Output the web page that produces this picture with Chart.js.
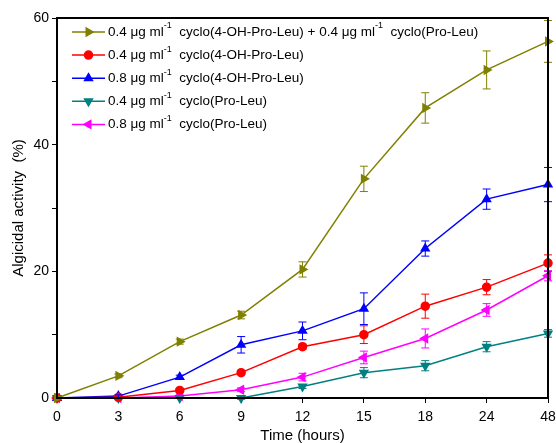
<!DOCTYPE html>
<html><head><meta charset="utf-8">
<script src="https://cdn.jsdelivr.net/npm/chart.js@4"></script>
<style>html,body{margin:0;padding:0;background:#fff}#wrap{width:556px;height:443px}</style>
</head><body><div id="wrap"><canvas id="c" width="556" height="443"></canvas></div>
<script>
const timeLabels = ['0','3','6','9','12','15','18','24','48'];
const comboValues = [0, 3.5, 8.9, 13.1, 20.3, 34.6, 45.8, 51.8, 56.3];
const comboErr    = [0, 0.3, 0.4, 0.6, 1.2, 2.0, 2.4, 3.0, 3.3];
const oh04Values  = [0, 0.1, 1.2, 4.0, 8.1, 10.0, 14.5, 17.5, 21.3];
const oh04Err     = [0, 0, 0.3, 0.3, 0.4, 1.4, 1.9, 1.2, 1.3];
const oh08Values  = [0, 0.3, 3.3, 8.4, 10.6, 14.1, 23.6, 31.4, 33.7];
const oh08Err     = [0, 0.2, 0.3, 1.3, 1.4, 2.5, 1.2, 1.6, 2.7];
const pl04Values  = [0, 0, 0, 0, 1.8, 4.0, 5.1, 8.1, 10.2];
const pl04Err     = [0, 0, 0, 0.2, 0.3, 0.8, 0.8, 0.8, 0.6];
const pl08Values  = [0, 0, 0.3, 1.3, 3.3, 6.4, 9.4, 13.9, 19.3];
const pl08Err     = [0, 0, 0.2, 0.3, 0.6, 1.0, 1.5, 1.0, 0.8];
const seriesNames = [
  ['0.4 μg ml', '-1', '  cyclo(4-OH-Pro-Leu) + 0.4 μg ml', '-1', '  cyclo(Pro-Leu)'],
  ['0.4 μg ml', '-1', '  cyclo(4-OH-Pro-Leu)'],
  ['0.8 μg ml', '-1', '  cyclo(4-OH-Pro-Leu)'],
  ['0.4 μg ml', '-1', '  cyclo(Pro-Leu)'],
  ['0.8 μg ml', '-1', '  cyclo(Pro-Leu)']
];
const FONT = '"Liberation Sans", Arial, sans-serif';

function ds(name, data, err, color, style, rot, r) {
  return { label: name.join(''), data, err, borderColor: color, backgroundColor: color,
    pointStyle: style, rotation: rot, pointRadius: r, pointHoverRadius: r,
    borderWidth: 1.5, tension: 0, clip: false, legendParts: name };
}

const errorBars = {
  id: 'errorBars',
  afterDatasetsDraw(chart) {
    const ctx = chart.ctx, y = chart.scales.y, x = chart.scales.x;
    chart.data.datasets.forEach(d => {
      ctx.save(); ctx.strokeStyle = d.borderColor; ctx.lineWidth = 1;
      d.data.forEach((v, i) => {
        const e = d.err[i]; if (!e) return;
        const px = x.getPixelForValue(i), t = y.getPixelForValue(v + e), b = y.getPixelForValue(v - e);
        ctx.beginPath();
        ctx.moveTo(px, t); ctx.lineTo(px, b);
        ctx.moveTo(px - 4, t); ctx.lineTo(px + 4, t);
        ctx.moveTo(px - 4, b); ctx.lineTo(px + 4, b);
        ctx.stroke();
      });
      ctx.restore();
    });
  }
};

const frame = {
  id: 'frame',
  afterDraw(chart) {
    const a = chart.chartArea, ctx = chart.ctx;
    ctx.save(); ctx.strokeStyle = '#000'; ctx.lineWidth = 2;
    ctx.strokeRect(a.left, a.top, a.right - a.left, a.bottom - a.top);
    ctx.restore();
    // legend
    ctx.save();
    chart.data.datasets.forEach((d, k) => {
      const cy = 32 + k * 23.1;
      ctx.strokeStyle = d.borderColor; ctx.lineWidth = 1.5;
      ctx.beginPath(); ctx.moveTo(72, cy); ctx.lineTo(105, cy); ctx.stroke();
      Chart.helpers.drawPoint(ctx, { pointStyle: d.pointStyle, rotation: d.rotation, radius: d.pointRadius, borderWidth: 1 }, 88.5, cy);
      ctx.fillStyle = d.borderColor; ctx.fill();
      ctx.fillStyle = '#000'; ctx.textBaseline = 'middle';
      let tx = 108;
      d.legendParts.forEach((p, j) => {
        if (j % 2 === 1) {
          ctx.font = '9px ' + FONT;
          ctx.fillText(p, tx, cy - 6);
          tx += ctx.measureText(p).width;
        } else {
          ctx.font = '13.5px ' + FONT;
          ctx.fillText(p, tx, cy);
          tx += ctx.measureText(p).width;
        }
      });
    });
    ctx.restore();
  }
};

new Chart(document.getElementById('c'), {
  type: 'line',
  data: {
    labels: timeLabels,
    datasets: [
      ds(seriesNames[0], comboValues, comboErr, '#808000', 'triangle', 90, 4.5),
      ds(seriesNames[1], oh04Values, oh04Err, '#ff0000', 'circle', 0, 4),
      ds(seriesNames[2], oh08Values, oh08Err, '#0000ff', 'triangle', 0, 4.5),
      ds(seriesNames[3], pl04Values, pl04Err, '#008080', 'triangle', 180, 4.5),
      ds(seriesNames[4], pl08Values, pl08Err, '#ff00ff', 'triangle', -90, 4.5)
    ]
  },
  options: {
    responsive: false, animation: false,
    layout: { padding: { left: 0, right: 8, top: 18, bottom: 0 } },
    plugins: { legend: { display: false }, tooltip: { enabled: false } },
    scales: {
      x: {
        type: 'category', offset: false,
        grid: { drawOnChartArea: false, drawTicks: true, tickLength: 5, color: '#000', lineWidth: 1 },
        border: { display: true, color: '#000', width: 2 },
        ticks: { color: '#000', font: { family: FONT, size: 14 }, padding: 6, maxRotation: 0, autoSkip: false },
        title: { display: true, text: 'Time (hours)', color: '#000', font: { family: FONT, size: 15, lineHeight: 1 }, padding: 0 },
        afterFit(s) { s.height = 45; s.paddingRight = 0; s.paddingLeft = 0; }
      },
      y: {
        min: 0, max: 60,
        grid: { drawOnChartArea: false, drawTicks: true, tickLength: 5, color: '#000', lineWidth: 1 },
        border: { display: true, color: '#000', width: 2 },
        ticks: { stepSize: 10, color: '#000', font: { family: FONT, size: 14 }, padding: 3,
          callback: v => (v % 20 === 0 ? String(v) : '') },
        title: { display: true, text: 'Algicidal activity  (%)', color: '#000', font: { family: FONT, size: 15 }, padding: { top: 10, bottom: 0 } },
        afterFit(s) { s.width = 57; s.paddingTop = 0; s.paddingBottom = 0; }
      }
    }
  },
  plugins: [errorBars, frame]
});
</script></body></html>
